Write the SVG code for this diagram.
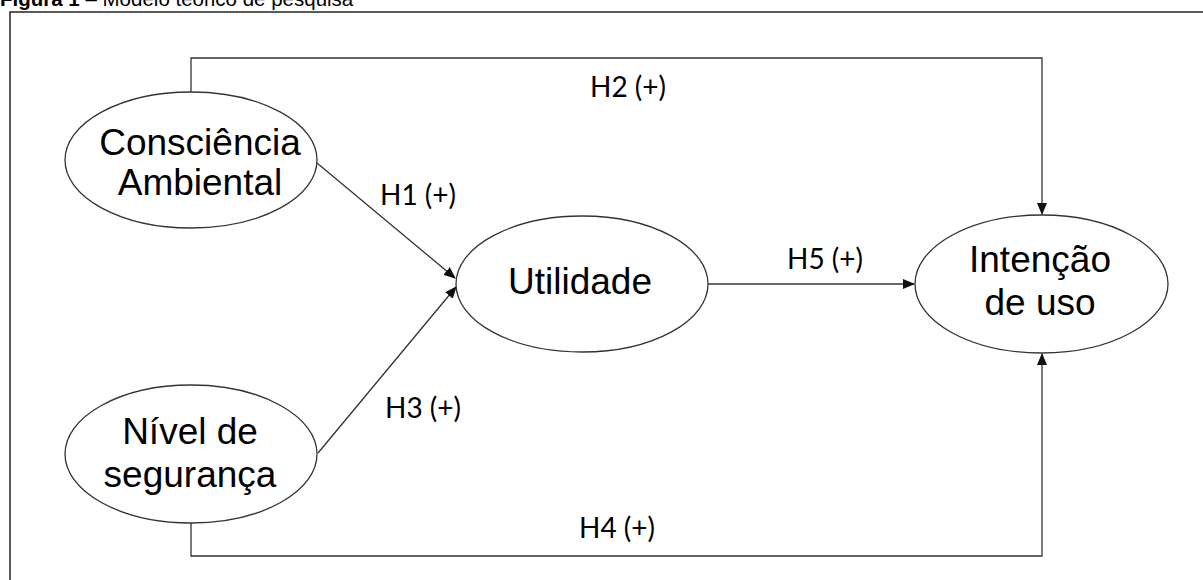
<svg xmlns="http://www.w3.org/2000/svg" width="1203" height="580" viewBox="0 0 1203 580">
<style>
.node{fill:#fff;stroke:#333;stroke-width:1.3}
.nt{font-family:"Liberation Sans",Arial,sans-serif;font-size:37px;fill:#000;text-anchor:middle}
.lbl{font-family:Lato,"Open Sans",sans-serif;font-size:28px;fill:#000;text-anchor:middle}
.con{fill:none;stroke:#333;stroke-width:1.3}
</style>
<defs>
<marker id="ah" markerWidth="12" markerHeight="10" refX="11" refY="5" orient="auto" markerUnits="userSpaceOnUse">
<path d="M0,0 L12,5 L0,10 Z" fill="#111"/>
</marker>
</defs>
<rect x="0" y="0" width="1203" height="580" fill="#fff"/>
<text x="0" y="6" font-family="Liberation Sans,Arial,sans-serif" font-size="20.5" fill="#000"><tspan font-weight="bold">Figura 1</tspan> – Modelo teórico de pesquisa</text>
<rect x="10" y="12" width="1250" height="650" fill="none" stroke="#222" stroke-width="1.5"/>
<g id="connectors">
<path class="con" d="M191,92 V58 H1042 V214" marker-end="url(#ah)"/>
<path class="con" d="M191,523 V556 H1042 V354" marker-end="url(#ah)"/>
<path class="con" d="M317,163 L455,278" marker-end="url(#ah)"/>
<path class="con" d="M318,453 L456,287" marker-end="url(#ah)"/>
<path class="con" d="M708,284 L914,284" marker-end="url(#ah)"/>
</g>
<g id="labels">
<text class="lbl" x="628" y="97">H2 (+)</text>
<text class="lbl" x="418" y="205">H1 (+)</text>
<text class="lbl" x="825" y="269">H5 (+)</text>
<text class="lbl" x="423" y="418">H3 (+)</text>
<text class="lbl" x="617" y="538">H4 (+)</text>
</g>
<g id="consciencia">
<ellipse class="node" cx="191" cy="160" rx="126" ry="68"/>
<text class="nt" x="200" y="155">Consciência</text>
<text class="nt" x="200" y="195">Ambiental</text>
</g>
<g id="utilidade">
<ellipse class="node" cx="582" cy="284" rx="126" ry="68"/>
<text class="nt" x="580" y="294">Utilidade</text>
</g>
<g id="nivel">
<ellipse class="node" cx="191" cy="454" rx="126" ry="69"/>
<text class="nt" x="190" y="444">Nível de</text>
<text class="nt" x="190" y="487">segurança</text>
</g>
<g id="intencao">
<ellipse class="node" cx="1041.5" cy="284" rx="126.5" ry="69"/>
<text class="nt" x="1040" y="272">Intenção</text>
<text class="nt" x="1040" y="315">de uso</text>
</g>
</svg>
